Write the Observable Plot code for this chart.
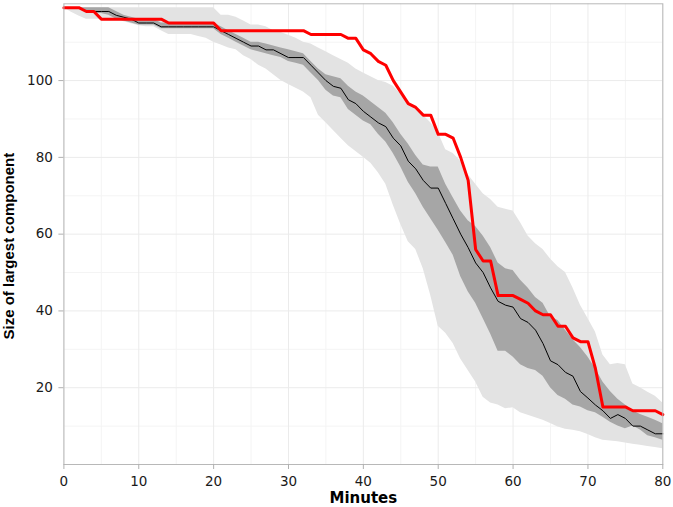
<!DOCTYPE html>
<html>
<head>
<meta charset="utf-8">
<script src="https://cdn.jsdelivr.net/npm/d3@7"></script>
<script src="https://cdn.jsdelivr.net/npm/@observablehq/plot@0.6"></script>
<style>
  html, body { margin: 0; padding: 0; background: #fff; }
  #chart svg { display: block; }
</style>
</head>
<body>
<div id="chart"></div>
<script>
// Minutes (x)
const minutes = [0,1,2,3,4,5,6,7,8,9,10,11,12,13,14,15,16,17,18,19,20,21,22,23,24,25,26,27,28,29,30,31,32,33,34,35,36,37,38,39,40,41,42,43,44,45,46,47,48,49,50,51,52,53,54,55,56,57,58,59,60,61,62,63,64,65,66,67,68,69,70,71,72,73,74,75,76,77,78,79,80];

// Observed size of largest component (red)
const observed = [119,119,119,118,118,116,116,116,116,116,116,116,116,116,115,115,115,115,115,115,115,113,113,113,113,113,113,113,113,113,113,113,113,112,112,112,112,112,111,111,108,107,105,104,100,97,94,93,91,91,86,86,85,80,74,56,53,53,44,44,44,43,42,40,39,39,36,36,33,32,32,25,15,15,15,15,14,14,14,14,13];

// Simulated median (black)
const median = [119,119,119,118,118,118,118,117,116.5,116,115,115,115,114,114,114,114,114,114,114,114,113,112,111,110,109,109,108,108,107,106,106,106,104,102,100,98.5,98,95,94,92,90.5,89,88,85,83,79,77,74,72,72,68,64,60,56.5,52.5,50,46,42.5,41.5,41,38,37,35,31.5,27,26,24,23,19,17.3,15.5,14,12,13,12,10,10,9,8,8];

// Inner band (dark grey)
const innerHigh = [119,119,119,119,119,119,119,118,117,116.5,116,116,116,115,115,115,115,115,115,115,115,114,113,112,111,110,110,109.5,109,108.5,108,107.5,107,105,103,101.5,101,100.5,98.5,97,96,94.5,93,91.5,89,86,83.5,80.5,78,77.5,77.5,73,69.5,66,63.5,62,59.5,56.5,52.5,51,50.5,48,46,43.5,42,38.5,37.5,35,32.5,30.5,28,25,21.5,19,17,15.5,14,13,12.3,11.5,10.6];
const innerLow = [119,119,119,118,117.5,117.5,117,116,115.5,115,114.5,114.5,114.5,113.5,113.5,113.5,113.5,113.5,113.5,113.5,113.5,112,111,110,109,108,107.5,107,106.5,106,105,104.5,104,102,100,97.5,96,95.5,92.5,91,89.5,88.5,86,84,81,77.5,73.5,70.5,67,64,61,57.8,54.5,49,45,42,38,34,29.5,29.5,28,26,25,24.5,23,20,18,17,15.5,15,14,13.5,12.3,11,10,9.3,10,9,7.5,7,6.3];

// Outer band (light grey)
const outerHigh = [119,119,119,119,119,119,119,119,119,119,119,119,119,119,119,119,119,119,119,119,119,117,117,116.5,115.5,114.5,114.5,114,113,112.5,111.8,111,110,109.5,108.5,107.5,106.5,105.5,104.5,103,102,101,100,99.5,98.5,96.5,94.5,92.5,91,89,86.5,82,81,79,75.5,73,70.5,69,67,66.5,66,63,59.5,57.5,56,53.5,51.5,50,46,41.5,38,34.5,28.5,26,26.3,26,21,20,18.8,17.8,16];
const outerLow = [119,117.8,116.8,116,116,116,116,116,115.3,114.8,114.3,114,114,113,112,112,112,112,111.5,111,110,109.3,108.5,108,106.5,105.5,104,103,101.5,100,99,98,97,95.5,91,89,87,85,83,81.5,80,78.5,76,73,67.5,62.5,58,56,51,44,36,34.2,31.5,27.5,24.5,21.5,17.5,16,15.5,14.5,14.8,13.5,12.8,12.2,11.5,10.7,9.8,9.2,8.9,8.5,7.8,7,6.3,6.1,5.9,5.6,5.3,5,4.7,4.4,4.1];

// Ticks
const xTicks = [0,10,20,30,40,50,60,70,80];
const xMinor = [5,15,25,35,45,55,65,75];
const yTicks = [20,40,60,80,100];
const yMinor = [10,30,50,70,90,110];

const data = minutes.map((m, i) => ({
  m,
  observed: observed[i],
  median: median[i],
  innerHigh: innerHigh[i],
  innerLow: innerLow[i],
  outerHigh: outerHigh[i],
  outerLow: outerLow[i]
}));

const chart = Plot.plot({
  width: 673,
  height: 507,
  marginLeft: 63.4,
  marginRight: 10.7,
  marginTop: 3.3,
  marginBottom: 43,
  style: { fontFamily: "'DejaVu Sans', sans-serif", fontSize: "13.5px", background: "#fff", color: "#1a1a1a" },
  x: { domain: [0, 80] },
  y: { domain: [0, 120] },
  marks: [
    Plot.gridX(xMinor, { stroke: "#f4f4f4", strokeOpacity: 1 }),
    Plot.gridY(yMinor, { stroke: "#f4f4f4", strokeOpacity: 1 }),
    Plot.gridX(xTicks, { stroke: "#ebebeb", strokeOpacity: 1 }),
    Plot.gridY(yTicks, { stroke: "#ebebeb", strokeOpacity: 1 }),
    Plot.areaY(data, { x: "m", y1: "outerLow", y2: "outerHigh", fill: "#e3e3e3" }),
    Plot.areaY(data, { x: "m", y1: "innerLow", y2: "innerHigh", fill: "#a6a6a6" }),
    Plot.line(data, { x: "m", y: "median", stroke: "#000", strokeWidth: 1 }),
    Plot.line(data, { x: "m", y: "observed", stroke: "#ff0000", strokeWidth: 3, strokeLinejoin: "round" }),
    Plot.frame({ stroke: "#b8b8b8", strokeWidth: 1 }),
    Plot.axisX({ ticks: xTicks, tickSize: 5, tickPadding: 7, stroke: "#b0b0b0", fill: "#1a1a1a", label: null, fontSize: 13.5 }),
    Plot.axisY({ ticks: yTicks, tickSize: 5, tickPadding: 6, stroke: "#b0b0b0", fill: "#1a1a1a", label: null, fontSize: 13.5 }),
    Plot.text(["Minutes"], { frameAnchor: "bottom", lineAnchor: "middle", dy: 34, fontWeight: "bold", fontSize: 15, fill: "#000", textAnchor: "middle" }),
    Plot.text(["Size of largest component"], { frameAnchor: "left", lineAnchor: "middle", dx: -55, dy: 12, rotate: -90, fontWeight: "bold", fontSize: 15, fill: "#000", textAnchor: "middle", fontFamily: "'Liberation Sans', Arial, sans-serif" })
  ]
});

document.getElementById("chart").appendChild(chart);
</script>
</body>
</html>
